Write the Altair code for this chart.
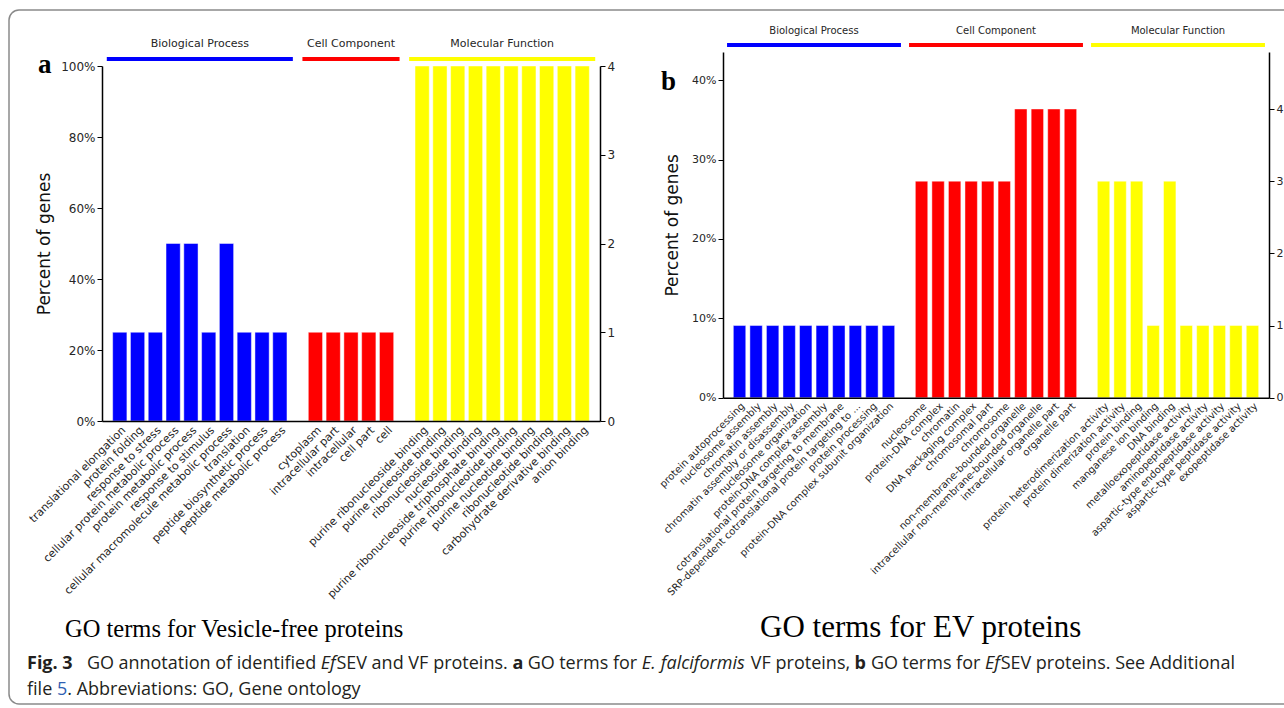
import altair as alt
import pandas as pd

W, H = 1284, 708
FONT = "DejaVu Sans"
TXT = "#262626"

# ---------------- data: panel a (vesicle-free proteins) ----------------
a_bp_terms = ["translational elongation", "protein folding", "response to stress",
              "cellular protein metabolic process", "protein metabolic process",
              "response to stimulus", "cellular macromolecule metabolic process",
              "translation", "peptide biosynthetic process", "peptide metabolic process"]
a_bp_counts = [1, 1, 1, 2, 2, 1, 2, 1, 1, 1]
a_cc_terms = ["cytoplasm", "intracellular part", "intracellular", "cell part", "cell"]
a_cc_counts = [1, 1, 1, 1, 1]
a_mf_terms = ["purine ribonucleoside binding", "purine nucleoside binding",
              "ribonucleoside binding", "nucleoside binding",
              "purine ribonucleoside triphosphate binding", "purine ribonucleotide binding",
              "purine nucleotide binding", "ribonucleotide binding",
              "carbohydrate derivative binding", "anion binding"]
a_mf_counts = [4, 4, 4, 4, 4, 4, 4, 4, 4, 4]
a_total_genes = 4
a_pct_ticks = [0, 0.2, 0.4, 0.6, 0.8, 1.0]
a_count_ticks = [0, 1, 2, 3, 4]

# ---------------- data: panel b (EV proteins) ----------------
b_bp_terms = ["protein autoprocessing", "nucleosome assembly", "chromatin assembly",
              "chromatin assembly or disassembly", "nucleosome organization",
              "protein-DNA complex assembly", "cotranslational protein targeting to membrane",
              "SRP-dependent cotranslational protein targeting to ...", "protein processing",
              "protein-DNA complex subunit organization"]
b_bp_counts = [1, 1, 1, 1, 1, 1, 1, 1, 1, 1]
b_cc_terms = ["nucleosome", "protein-DNA complex", "chromatin", "DNA packaging complex",
              "chromosomal part", "chromosome", "non-membrane-bounded organelle",
              "intracellular non-membrane-bounded organelle", "intracellular organelle part",
              "organelle part"]
b_cc_counts = [3, 3, 3, 3, 3, 3, 4, 4, 4, 4]
b_mf_terms = ["protein heterodimerization activity", "protein dimerization activity",
              "protein binding", "manganese ion binding", "DNA binding",
              "metalloexopeptidase activity", "aminopeptidase activity",
              "aspartic-type endopeptidase activity", "aspartic-type peptidase activity",
              "exopeptidase activity"]
b_mf_counts = [3, 3, 3, 1, 3, 1, 1, 1, 1, 1]
b_total_genes = 11
b_pct_ticks = [0, 0.1, 0.2, 0.3, 0.4]
b_count_ticks = [0, 1, 2, 3, 4]

group_names = ["Biological Process", "Cell Component", "Molecular Function"]
group_colors = ["#0000ff", "#ff0000", "#ffff00"]


def build_panel(terms_groups, counts_groups, total, xr, yr, pct_max, cnt_max,
                pct_ticks, cnt_ticks, p_in, p_out, xlab_size, ylab_size,
                title_pad, hdr_line_y, hdr_text_y, hdr_size, hdr_off):
    domain, rows, groups = [], [], []
    for gi, (terms, counts) in enumerate(zip(terms_groups, counts_groups)):
        if gi > 0:
            domain.append(f"_gap{gi}")
        domain.extend(terms)
        for t, c in zip(terms, counts):
            rows.append({"term": t, "count": c, "pct": c / total, "color": group_colors[gi]})
        k = (len(terms) - 1) // 2
        groups.append({"first": terms[0], "last": terms[-1], "mid": terms[k],
                       "frac": (len(terms) - 1) / 2 - k,
                       "color": group_colors[gi], "name": group_names[gi]})
    df = pd.DataFrame(rows)
    gdf = pd.DataFrame(groups)
    n = len(domain)
    step = (xr[1] - xr[0]) / (n - p_in + 2 * p_out)

    xscale = alt.Scale(domain=domain, range=list(xr), paddingInner=p_in, paddingOuter=p_out)
    xaxis = alt.Axis(orient="bottom", offset=-(H - yr[0]), title=None, labelAngle=-45,
                     labelFont=FONT, labelFontSize=xlab_size, labelColor=TXT, labelLimit=0,
                     labelOverlap=False, labelPadding=3, ticks=False, domainColor="black",
                     domainWidth=1.5, grid=False, zindex=1,
                     labelExpr="indexof(datum.value, '_gap') == 0 ? '' : datum.value")

    def X(field):
        return alt.X(f"{field}:N", scale=xscale, axis=xaxis)

    bars = alt.Chart(df).mark_bar(stroke="white", strokeOpacity=0.45, strokeWidth=1).encode(
        x=X("term"),
        y=alt.Y("pct:Q",
                scale=alt.Scale(domain=[0, pct_max], range=[yr[0], yr[1]], nice=False, zero=True),
                axis=alt.Axis(orient="left", offset=-xr[0], values=pct_ticks, format=".0%",
                              title="Percent of genes", titleFont=FONT, titleFontSize=17,
                              titleFontWeight="normal", titleColor="#111", titlePadding=title_pad,
                              labelFont=FONT, labelFontSize=ylab_size, labelColor=TXT,
                              tickSize=5, tickColor="black", tickWidth=1, domainColor="black",
                              domainWidth=1.5, grid=False, zindex=1, labelPadding=2)),
        color=alt.Color("color:N", scale=None),
    )
    cnt = alt.Chart(df).mark_point(opacity=0).encode(
        x=X("term"),
        y=alt.Y("count:Q",
                scale=alt.Scale(domain=[0, cnt_max], range=[yr[0], yr[1]], nice=False, zero=True),
                axis=alt.Axis(orient="right", offset=-(W - xr[1]), values=cnt_ticks, format="d",
                              title=None, labelFont=FONT, labelFontSize=ylab_size, labelColor=TXT,
                              tickSize=5, tickColor="black", tickWidth=1, domainColor="black",
                              domainWidth=1.5, grid=False, zindex=1, labelPadding=2)),
    )
    rules = alt.Chart(gdf).mark_rule(strokeWidth=4, xOffset=-hdr_off, x2Offset=hdr_off).encode(
        x=X("first"), x2=alt.X2("last"), y=alt.value(hdr_line_y),
        color=alt.Color("color:N", scale=None),
    )
    texts = []
    for gi in range(len(groups)):
        texts.append(
            alt.Chart(gdf.iloc[[gi]]).mark_text(
                dx=groups[gi]["frac"] * step, font=FONT, fontSize=hdr_size, color=TXT,
                baseline="middle", align="center"
            ).encode(x=X("mid"), y=alt.value(hdr_text_y), text="name:N")
        )
    return alt.layer(bars, cnt, rules, *texts).resolve_scale(y="independent")


panel_a = build_panel([a_bp_terms, a_cc_terms, a_mf_terms], [a_bp_counts, a_cc_counts, a_mf_counts],
                      a_total_genes, (102, 600), (421, 66), 1.0, 4.0, a_pct_ticks, a_count_ticks,
                      0.2, 0.6, 11, 12, 7, 59, 44, 11, 13)
panel_b = build_panel([b_bp_terms, b_cc_terms, b_mf_terms], [b_bp_counts, b_cc_counts, b_mf_counts],
                      b_total_genes, (723, 1269), (397.7, 52), 0.4354, 4.79, b_pct_ticks, b_count_ticks,
                      0.25, 0.625, 10, 11, 10, 45, 31, 10, 12.5)

one = alt.Data(values=[{}])

border = alt.Chart(one).mark_rect(fill="transparent", stroke="#8a8a8a", strokeWidth=1.5,
                                   cornerRadius=10).encode(
    x=alt.value(9), x2=alt.value(1300), y=alt.value(10), y2=alt.value(704))

# ---------------- caption (justified first line, as in the figure) ----------------
CAP = "#231f20"
CAP_FONT = "Open Sans"
CAP_SIZE = 18
OS_W = {' ': 532, '.': 545, ',': 502, ':': 545, '3': 1171, '5': 1171, 'A': 1296, 'E': 1139,
        'F': 1057, 'G': 1448, 'O': 1599, 'S': 1098, 'V': 1239, 'a': 1139, 'b': 1255, 'c': 975,
        'd': 1255, 'e': 1149, 'f': 694, 'g': 1122, 'i': 518, 'l': 518, 'm': 1905, 'n': 1257,
        'o': 1237, 'p': 1255, 'r': 836, 's': 977, 't': 723, 'v': 1051, 'y': 1053, 'x': 1075,
        'u': 1257, 'h': 1257, 'k': 1032, 'z': 967}
STYLE_F = {"n": 1.0, "b": 1.07, "i": 0.97}


def tw(t, st):
    return sum(OS_W.get(ch, 1100) for ch in t) / 2048 * CAP_SIZE * STYLE_F[st]


line1_words = [
    [("GO", "n")], [("annotation", "n")], [("of", "n")], [("identified", "n")],
    [("Ef", "i"), ("SEV", "n")], [("and", "n")], [("VF", "n")], [("proteins.", "n")],
    [("a", "b")], [("GO", "n")], [("terms", "n")], [("for", "n")], [("E.", "i")],
    [("falciformis", "i")], [("VF", "n")], [("proteins,", "n")], [("b", "b")], [("GO", "n")],
    [("terms", "n")], [("for", "n")], [("Ef", "i"), ("SEV", "n")], [("proteins.", "n")],
    [("See", "n")], [("Additional", "n")],
]
L1_START, L1_END, L1_Y = 87, 1235, 669
word_w = [sum(tw(t, s) for t, s in w) for w in line1_words]
space = (L1_END - L1_START - sum(word_w)) / (len(line1_words) - 1)

pieces = [("Fig. 3", 27, L1_Y, "b", CAP)]
cx = L1_START
for w, ww in zip(line1_words, word_w):
    px = cx
    for t, s in w:
        pieces.append((t, px, L1_Y, s, CAP))
        px += tw(t, s)
    cx += ww + space

L2_Y = 695
cx = 27
for t, s, c in [("file ", "n", CAP), ("5", "n", "#2f5fb3"), (". Abbreviations: GO, Gene ontology", "n", CAP)]:
    pieces.append((t, cx, L2_Y, s, c))
    cx += tw(t, s)

WEIGHT = {"n": "normal", "b": "bold", "i": "normal"}
FSTYLE = {"n": "normal", "b": "normal", "i": "italic"}

text_layers = []
for (t, x, y, s, c) in pieces:
    text_layers.append(
        alt.Chart(one).mark_text(text=t, font=CAP_FONT, fontSize=CAP_SIZE, fontWeight=WEIGHT[s],
                                 fontStyle=FSTYLE[s], color=c, align="left",
                                 baseline="alphabetic").encode(x=alt.value(x), y=alt.value(y))
    )

# (text, x, y, font, size)
title_items = [
    ("a", 38, 73, "Liberation Serif", 27, "bold"),
    ("b", 661, 90, "Liberation Serif", 27, "bold"),
    ("GO terms for Vesicle-free proteins", 65, 637, "Liberation Serif", 24.5, "normal"),
    ("GO terms for EV proteins", 760, 637, "Liberation Serif", 31, "normal"),
]
for (t, x, y, f, s, w) in title_items:
    text_layers.append(
        alt.Chart(one).mark_text(text=t, font=f, fontSize=s, fontWeight=w, color="black",
                                 align="left", baseline="alphabetic").encode(
            x=alt.value(x), y=alt.value(y))
    )

chart = alt.layer(border, panel_a, panel_b, *text_layers).resolve_scale(
    x="independent", y="independent"
).properties(
    width=W, height=H, padding=0,
    autosize=alt.AutoSizeParams(type="none"),
).configure(background="white").configure_view(stroke="transparent")

chart.save("out.html", embed_options={"renderer": "svg", "actions": False})
